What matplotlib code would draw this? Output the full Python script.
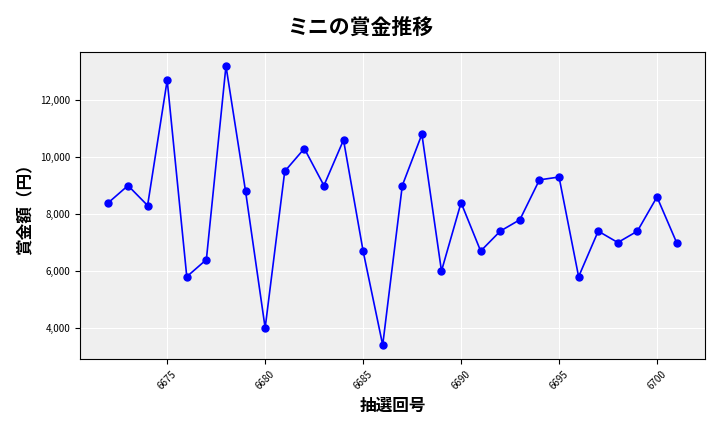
import matplotlib
matplotlib.use("Agg")
import matplotlib.pyplot as plt
from matplotlib.ticker import FuncFormatter

plt.rcParams['font.family'] = ['Noto Sans CJK JP', 'DejaVu Sans']

draws = list(range(6672, 6702))
prizes = [8400, 9000, 8300, 12700, 5800, 6400, 13200, 8800, 4000, 9500,
          10300, 9000, 10600, 6700, 3400, 9000, 10800, 6000, 8400, 6700,
          7400, 7800, 9200, 9300, 5800, 7400, 7000, 7400, 8600, 7000]

fig = plt.figure(figsize=(7.2, 4.32), dpi=100)
ax = fig.add_axes([80/720, 1-359/432, 625/720, 307/432])
ax.set_facecolor('#efefef')
ax.grid(True, color='white', linewidth=0.8)
ax.set_axisbelow(True)
ax.plot(draws, prizes, color='blue', marker='o', markersize=5, linewidth=1.2)
ax.yaxis.set_major_formatter(FuncFormatter(lambda v, p: f"{int(v):,}"))
ax.set_xticks([6675, 6680, 6685, 6690, 6695, 6700])
ax.tick_params(axis='x', labelrotation=45, labelsize=7)
ax.tick_params(axis='y', labelsize=7)
ax.set_xlabel('抽選回号', fontsize=12, fontweight='bold')
ax.set_ylabel('賞金額（円）', fontsize=12, fontweight='bold')
fig.suptitle('ミニの賞金推移', fontsize=15, fontweight='bold', y=0.96)
fig.savefig('out.png', dpi=100)
